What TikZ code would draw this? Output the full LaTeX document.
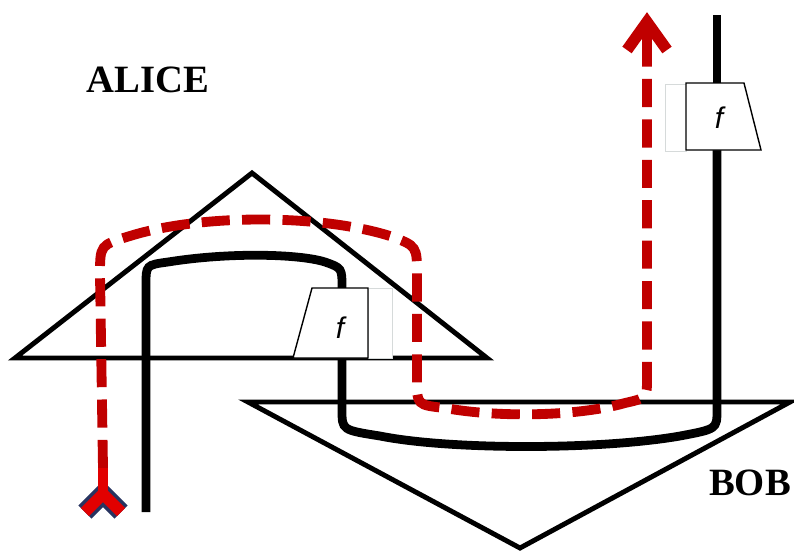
\documentclass[tikz,border=0pt]{standalone}
\usepackage{fontspec}
\setmainfont{Liberation Serif}
\newfontfamily\boxfont{Liberation Sans}
\usetikzlibrary{arrows.meta,positioning,calc}
\definecolor{wirered}{RGB}{192,0,0}
\definecolor{tailred}{RGB}{226,0,0}
\definecolor{tailblue}{RGB}{40,52,96}
\definecolor{ghost}{RGB}{214,218,218}

\begin{document}
\begin{tikzpicture}[x=0.02cm,y=-0.02cm,
  every node/.style={font=\boxfont\itshape\fontsize{17}{17}\selectfont},
  party/.style={draw,line width=2.8pt,line join=miter},
  wire/.style={line width=5pt},
  qpath/.style={wirered,line width=5.6pt,dash pattern=on 16pt off 7pt},
  gate/.style={draw,fill=white,line width=0.8pt},
  ghostbox/.style={draw=ghost,fill=white,line width=0.5pt},
  who/.style={font=\rmfamily\bfseries\fontsize{22}{26}\selectfont}]
\useasboundingbox (0,0) rectangle (794,552);
% the two parties
\draw[party] (15,358) -- (252,173) -- (487,358) -- cycle;
\draw[party] (248,402) -- (790,402) -- (520,548) -- cycle;
\node[who] (alice) at (148,80) {ALICE};
\node[who] (bob) at (750,483) {BOB};
% wire ends
\coordinate (ain) at (146,512);
\coordinate (atop) at (342,288);
\coordinate (abot) at (342,358);
\coordinate (btop) at (717,83);
\coordinate (bbot) at (717,150);
\coordinate (bout) at (717,15);
% black wires
\draw[wire] (ain) -- (146,285) .. controls (146,265) .. (168,262) .. controls (230,252) and (300,254) .. (325,262) .. controls (342,268) .. (atop);
\draw[wire] (abot) -- (342,410) .. controls (342,430) .. (380,436) .. controls (450,450) and (600,450) .. (680,436) .. controls (717,429) .. (717,410) -- (bbot);
\draw[wire] (btop) -- (bout);
% gates
\draw[ghostbox] (368,288) rectangle (392,358);
\draw[gate] (312,288) -- (368,288) -- (368,358) -- (293,358) -- cycle;
\node (fa) at (340,328) {f};
\draw[ghostbox] (665,84) rectangle (686,151);
\draw[gate] (686,83) -- (744,83) -- (761,150) -- (686,150) -- cycle;
\node (fb) at (719,118) {f};
% red path
\coordinate (qin) at (103,468);
\coordinate (qout) at (647,40);
\draw[qpath] (qin) -- (100,275) .. controls (100,245) .. (130,236) .. controls (200,214) and (320,214) .. (390,236) .. controls (417,246) .. (417,275) -- (417,380) .. controls (417,405) .. (445,408) .. controls (500,418) and (580,416) .. (625,403) .. controls (647,398) .. (647,378) -- (qout);
% arrow head and tail
\draw[wirered,line width=5.6pt] (647,62) -- (647,24);
\draw[wirered,line width=6.5pt,line join=miter] (627,50) -- (647,22) -- (667,50);
\draw[tailblue,line width=10.5pt,line join=miter] (85,512) -- (103,494) -- (121,512);
\draw[tailred,line width=6.5pt,line join=miter] (85,512) -- (103,494) -- (121,512);
\draw[tailred,line width=5.6pt] (qin) -- (103,494);
\end{tikzpicture}
\end{document}
